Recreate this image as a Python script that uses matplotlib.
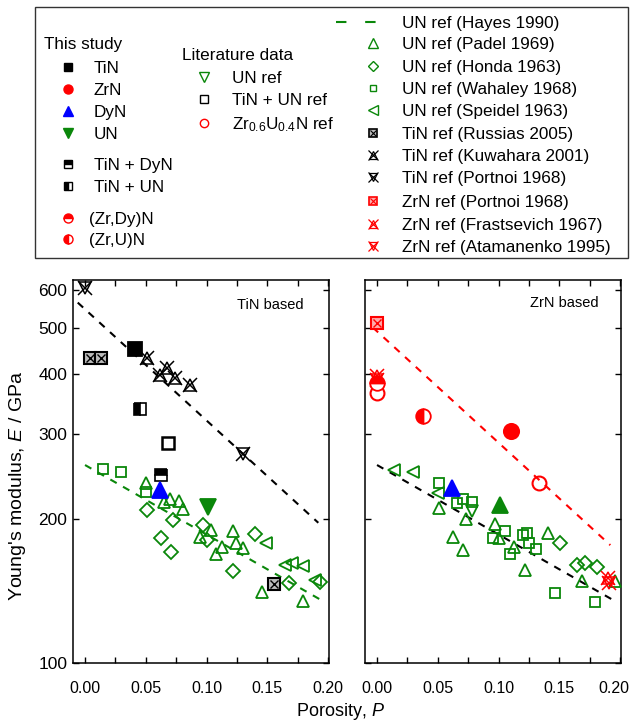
import numpy as np
import matplotlib
matplotlib.use('Agg')
import matplotlib.pyplot as plt
from matplotlib.patches import Rectangle
from matplotlib.ticker import NullLocator
from matplotlib.transforms import ScaledTranslation

plt.rcParams['font.family'] = ['Liberation Sans', 'DejaVu Sans']
plt.rcParams['mathtext.fontset'] = 'custom'
plt.rcParams['mathtext.rm'] = 'Liberation Sans'
plt.rcParams['mathtext.it'] = 'Liberation Sans:italic'

GREEN = '#0a870a'
RED = '#ff0000'
BLUE = '#0000ff'

# ---------------- data: TiN based (left panel) ----------------
L_tin_P, L_tin_E = [0.041], [452]
L_tindyn_P, L_tindyn_E = [0.0623], [247]
L_tinun_P, L_tinun_E = [0.045], [338]
L_dyn_P, L_dyn_E = [0.0617], [229]
L_un_P, L_un_E = [0.1015], [211]
L_tinunref_P, L_tinunref_E = [0.0686], [287]
L_russias_P, L_russias_E = [0.004, 0.013, 0.1556], [431, 431, 146]
L_kuwahara_P = [0.0508, 0.0617, 0.0672, 0.0741, 0.0864]
L_kuwahara_E = [431, 398, 411, 393, 380]
L_portnoi_P, L_portnoi_E = [0.0, 0.130], [604, 272]
L_padel_P = [0.0502, 0.070, 0.065, 0.0776, 0.0804, 0.0947, 0.104, 0.108,
             0.1125, 0.122, 0.124, 0.130, 0.146, 0.1797]
L_padel_E = [237.6, 220, 216.5, 218, 209.4, 183.4, 189, 169, 174.7, 188,
             178, 174, 140.5, 134.9]
L_honda_P = [0.0513, 0.0727, 0.0623, 0.0708, 0.0974, 0.1005, 0.1399,
             0.1215, 0.1682, 0.1934]
L_honda_E = [208, 198.6, 182.4, 170, 194, 180.5, 185.7, 155.5, 146.6, 147.7]
L_wahaley_P, L_wahaley_E = [0.0146, 0.0294, 0.0502], [254, 250, 227.5]
L_speidel_P = [0.149, 0.1646, 0.170, 0.1797, 0.1893]
L_speidel_E = [177.6, 160, 161.3, 159.2, 149]
# fit lines: log10(E) = a + b*P over [P0, P1]
L_fit_a, L_fit_b, L_fit_range = 2.737, -2.317, (-0.006, 0.192)
hayes_a, hayes_b, hayes_range = 2.4125, -1.448, (0.0, 0.1975)

# ---------------- data: ZrN based (right panel) ----------------
R_zrn_P, R_zrn_E = [0.110], [305]
R_zrdyn_P, R_zrdyn_E = [0.0], [383]
R_zrun_P, R_zrun_E = [0.0376], [327.5]
R_zrref_P, R_zrref_E = [0.0, 0.1336], [366, 237.6]
R_dyn_P, R_dyn_E = [0.0615], [231]
R_un_P, R_un_E = [0.1012], [213]
R_unref_P, R_unref_E = [0.078], [207]
R_portnoi_P, R_portnoi_E = [0.0], [510]
R_frast_P, R_frast_E = [0.0, 0.1905], [396, 150]
R_atam_P, R_atam_E = [0.0, 0.191], [389, 147]
R_speidel_P, R_speidel_E = [0.014, 0.0294, 0.0505], [252.5, 250, 226]
R_wahaley_P = [0.051, 0.0656, 0.0705, 0.078, 0.0952, 0.1054, 0.1204,
               0.1237, 0.1254, 0.1306, 0.1095, 0.1465, 0.1794]
R_wahaley_E = [237, 215.5, 220, 217, 182, 188, 185, 187, 177.6, 172.6,
               168.7, 139.7, 133.8]
R_padel_P = [0.0513, 0.0628, 0.071, 0.0733, 0.097, 0.1003, 0.1125, 0.1218,
             0.141, 0.1685, 0.196]
R_padel_E = [210, 183.4, 171.6, 200, 195, 182, 174.7, 156.2, 186.5, 148, 148.5]
R_honda_P, R_honda_E = [0.1506, 0.1649, 0.1712, 0.1813], [178, 160, 161.3, 158.6]
R_fit_a, R_fit_b, R_fit_range = 2.691, -2.32, (-0.0035, 0.192)

yticks = [100, 200, 300, 400, 500, 600]
xticks = [0.0, 0.025, 0.05, 0.075, 0.10, 0.125, 0.15, 0.175, 0.20]
xticklabels = ['0.00', '', '0.05', '', '0.10', '', '0.15', '', '0.20']

W, H = 630, 722
fig = plt.figure(figsize=(W / 100, H / 100), dpi=100)


def rect(l, t, r, b):
    return [l / W, 1 - b / H, (r - l) / W, (b - t) / H]


def pts(ax, P, E, marker, ms, mfc='none', mec='k', mew=1.3, fs='full',
        alt='white', z=4):
    ax.plot(P, E, ls='none', marker=marker, ms=ms, mfc=mfc, mec=mec, mew=mew,
            fillstyle=fs, markerfacecoloralt=alt, zorder=z)


def boxed_x(ax, P, E, color, ms=8, fill='#bbbbbb'):
    pts(ax, P, E, 's', ms, mfc=fill, mec=color, mew=1.5)
    pts(ax, P, E, 'x', ms * 0.7, mec=color, mew=1.0, z=5)


def tri_x(ax, P, E, color, tri='^', ms=9):
    pts(ax, P, E, tri, ms * 0.85, mec=color, mew=1.1)
    pts(ax, P, E, 'x', ms, mec=color, mew=1.1, z=5)


def fit_line(ax, a, b, rng, color):
    P = np.linspace(rng[0], rng[1], 50)
    ax.plot(P, 10 ** (a + b * P), color=color, lw=1.5,
            ls=(0, (3.5, 3.5)), zorder=2)


axL = fig.add_axes(rect(73, 280, 329, 663))
axR = fig.add_axes(rect(365, 280, 621, 663))

for ax in (axL, axR):
    ax.set_yscale('log')
    ax.set_ylim(100, 628)
    ax.set_xlim(-0.0099, 0.2008)
    ax.set_yticks(yticks)
    ax.set_yticklabels([str(v) for v in yticks])
    ax.yaxis.set_minor_locator(NullLocator())
    ax.set_xticks(xticks)
    ax.set_xticklabels(xticklabels)
    ax.tick_params(direction='in', top=True, right=True, length=4.5,
                   width=1.0, labelsize=12.5)
    ax.tick_params(axis='x', pad=13, labelsize=11.5)
    ax.tick_params(axis='y', pad=4)
    for s in ax.spines.values():
        s.set_linewidth(1.1)
axR.tick_params(labelleft=False)
# keep the last tick label of the right panel inside the figure
last = axR.get_xticklabels()[-1]
last.set_transform(last.get_transform() +
                   ScaledTranslation(-0.06, 0, fig.dpi_scale_trans))

# ---- left panel
fit_line(axL, L_fit_a, L_fit_b, L_fit_range, 'k')
fit_line(axL, hayes_a, hayes_b, hayes_range, GREEN)
pts(axL, L_padel_P, L_padel_E, '^', 9.3, mec=GREEN)
pts(axL, L_honda_P, L_honda_E, 'D', 7.2, mec=GREEN)
pts(axL, L_wahaley_P, L_wahaley_E, 's', 7.6, mec=GREEN)
pts(axL, L_speidel_P, L_speidel_E, '<', 9.3, mec=GREEN)
boxed_x(axL, L_russias_P, L_russias_E, 'k')
tri_x(axL, L_kuwahara_P, L_kuwahara_E, 'k', '^', 10)
tri_x(axL, L_portnoi_P, L_portnoi_E, 'k', 'v', 10)
pts(axL, L_tinunref_P, L_tinunref_E, 's', 8.6, mec='k', mew=1.8)
pts(axL, L_tin_P, L_tin_E, 's', 9.4, mfc='k', mec='k', z=6)
pts(axL, L_tinun_P, L_tinun_E, 's', 9.0, mfc='k', mec='k', fs='left', mew=1.2, z=6)
pts(axL, L_tindyn_P, L_tindyn_E, 's', 9.0, mfc='k', mec='k', fs='top', mew=1.2, z=6)
pts(axL, L_dyn_P, L_dyn_E, '^', 12, mfc=BLUE, mec=BLUE, z=6)
pts(axL, L_un_P, L_un_E, 'v', 12, mfc=GREEN, mec=GREEN, z=6)

# ---- right panel
fit_line(axR, R_fit_a, R_fit_b, R_fit_range, RED)
fit_line(axR, hayes_a, hayes_b, hayes_range, 'k')
pts(axR, R_padel_P, R_padel_E, '^', 9.3, mec=GREEN)
pts(axR, R_honda_P, R_honda_E, 'D', 7.2, mec=GREEN)
pts(axR, R_wahaley_P, R_wahaley_E, 's', 7.6, mec=GREEN)
pts(axR, R_speidel_P, R_speidel_E, '<', 9.3, mec=GREEN)
pts(axR, R_unref_P, R_unref_E, 'v', 9.3, mec=GREEN)
boxed_x(axR, R_portnoi_P, R_portnoi_E, RED, fill='#ffaaaa')
tri_x(axR, R_frast_P, R_frast_E, RED, '^', 10)
tri_x(axR, R_atam_P, R_atam_E, RED, 'v', 10)
pts(axR, R_zrref_P, R_zrref_E, 'o', 10, mec=RED, mew=1.5)
pts(axR, R_zrdyn_P, R_zrdyn_E, 'o', 10.5, mfc=RED, mec=RED, fs='top', z=6)
pts(axR, R_zrun_P, R_zrun_E, 'o', 10.5, mfc=RED, mec=RED, fs='left', z=6)
pts(axR, R_zrn_P, R_zrn_E, 'o', 11, mfc=RED, mec=RED, z=6)
pts(axR, R_dyn_P, R_dyn_E, '^', 12, mfc=BLUE, mec=BLUE, z=6)
pts(axR, R_un_P, R_un_E, '^', 12, mfc=GREEN, mec=GREEN, z=6)

fig.text(304 / W, 1 - 305 / H, 'TiN based', ha='right', va='center', fontsize=10.5)
fig.text(599 / W, 1 - 303 / H, 'ZrN based', ha='right', va='center', fontsize=10.5)
fig.text(18 / W, 1 - 486 / H, "Young's modulus, $E$ / GPa", rotation=90,
         ha='center', va='center', fontsize=14)
fig.text(340 / W, 1 - 712 / H, 'Porosity, $P$', ha='center', va='center',
         fontsize=13)

# ---------------- legend (drawn in pixel coordinates) ----------------
lax = fig.add_axes([0, 0, 1, 1], zorder=-1)
lax.set_xlim(0, W)
lax.set_ylim(H, 0)
lax.axis('off')
lax.patch.set_alpha(0)
lax.add_patch(Rectangle((35, 7), 593, 251, fill=False, ec='#333333', lw=1.0))
FS = 12.3


def ltext(x, y, s):
    lax.text(x, y + 6, s, ha='left', va='baseline', fontsize=FS)


def lm(x, y, marker, ms, mfc='none', mec='k', mew=1.0, fs='full', alt='white'):
    lax.plot([x], [y], ls='none', marker=marker, ms=ms, mfc=mfc, mec=mec,
             mew=mew, fillstyle=fs, markerfacecoloralt=alt)


def lbx(x, y, c, fill):
    lm(x, y, 's', 5.5, mfc=fill, mec=c, mew=1.2)
    lm(x, y, 'x', 4, mec=c, mew=0.8)


def ltx(x, y, c, tri):
    lm(x, y, tri, 6, mec=c, mew=0.9)
    lm(x, y, 'x', 7, mec=c, mew=0.9)


ltext(44, 43, 'This study')
lm(68, 67, 's', 6, mfc='k')
ltext(94, 67, 'TiN')
lm(68, 89, 'o', 6.5, mfc=RED, mec=RED)
ltext(94, 89, 'ZrN')
lm(68, 111, '^', 7.5, mfc=BLUE, mec=BLUE)
ltext(94, 111, 'DyN')
lm(68, 133, 'v', 7.5, mfc=GREEN, mec=GREEN)
ltext(94, 133, 'UN')
lm(68, 164, 's', 6, mfc='k', fs='top')
ltext(94, 164, 'TiN + DyN')
lm(68, 186, 's', 6, mfc='k', fs='left')
ltext(94, 186, 'TiN + UN')
lm(68, 218, 'o', 6.5, mfc=RED, mec=RED, fs='top')
ltext(89, 218, '(Zr,Dy)N')
lm(68, 239, 'o', 6.5, mfc=RED, mec=RED, fs='left')
ltext(89, 239, '(Zr,U)N')

ltext(182, 54, 'Literature data')
lm(204, 77, 'v', 6.5, mec=GREEN)
ltext(232, 77, 'UN ref')
lm(204, 99, 's', 5.5, mec='k')
ltext(232, 99, 'TiN + UN ref')
lm(204, 123, 'o', 6, mec=RED)
ltext(232, 123, r'Zr$_{0.6}$U$_{0.4}$N ref')

lax.plot([336, 392], [22, 22], color=GREEN, lw=1.5, ls=(0, (5, 9)))
ltext(402, 22, 'UN ref (Hayes 1990)')
lm(373, 43, '^', 6.5, mec=GREEN)
ltext(402, 43, 'UN ref (Padel 1969)')
lm(373, 66, 'D', 5, mec=GREEN)
ltext(402, 66, 'UN ref (Honda 1963)')
lm(373, 88, 's', 5, mec=GREEN)
ltext(402, 88, 'UN ref (Wahaley 1968)')
lm(373, 110, '<', 6.5, mec=GREEN)
ltext(402, 110, 'UN ref (Speidel 1963)')
lbx(373, 133, 'k', '#bbbbbb')
ltext(402, 133, 'TiN ref (Russias 2005)')
ltx(373, 155, 'k', '^')
ltext(402, 155, 'TiN ref (Kuwahara 2001)')
ltx(373, 177, 'k', 'v')
ltext(402, 177, 'TiN ref (Portnoi 1968)')
lbx(373, 201, RED, '#ffaaaa')
ltext(402, 201, 'ZrN ref (Portnoi 1968)')
ltx(373, 224, RED, '^')
ltext(402, 224, 'ZrN ref (Frastsevich 1967)')
ltx(373, 246, RED, 'v')
ltext(402, 246, 'ZrN ref (Atamanenko 1995)')

fig.savefig('out.png', dpi=100)
